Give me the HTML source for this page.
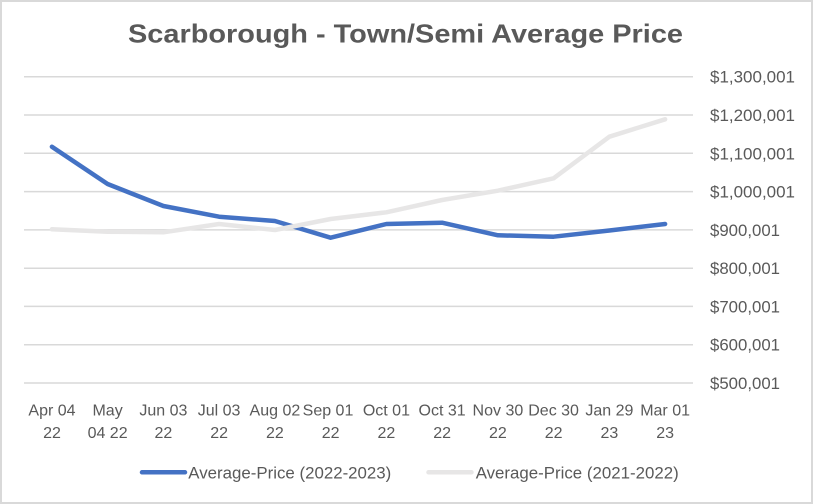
<!DOCTYPE html>
<html>
<head>
<meta charset="utf-8">
<style>
  html,body{margin:0;padding:0;background:#fff;}
  svg{display:block;}
  text{font-family:"Liberation Sans",Arial,sans-serif;fill:#595959;}
</style>
</head>
<body>
<svg width="814" height="504" viewBox="0 0 814 504" xmlns="http://www.w3.org/2000/svg">
  <rect x="0" y="0" width="814" height="504" fill="#ffffff"/>
  <rect x="1" y="1" width="811" height="502" fill="none" stroke="#d9d9d9" stroke-width="2"/>

  <!-- Title -->
  <text x="128" y="42.3" font-size="26" font-weight="bold" textLength="555" lengthAdjust="spacingAndGlyphs">Scarborough - Town/Semi Average Price</text>

  <!-- Gridlines -->
  <g stroke="#d9d9d9" stroke-width="1.5">
    <line x1="24" y1="76.7" x2="693" y2="76.7"/>
    <line x1="24" y1="115.0" x2="693" y2="115.0"/>
    <line x1="24" y1="153.3" x2="693" y2="153.3"/>
    <line x1="24" y1="191.6" x2="693" y2="191.6"/>
    <line x1="24" y1="229.9" x2="693" y2="229.9"/>
    <line x1="24" y1="268.2" x2="693" y2="268.2"/>
    <line x1="24" y1="306.4" x2="693" y2="306.4"/>
    <line x1="24" y1="344.7" x2="693" y2="344.7"/>
    <line x1="24" y1="383.0" x2="693" y2="383.0"/>
  </g>

  <!-- Y axis labels -->
  <g font-size="17">
    <text x="710" y="82.7" textLength="85" lengthAdjust="spacingAndGlyphs">$1,300,001</text>
    <text x="710" y="121.0" textLength="85" lengthAdjust="spacingAndGlyphs">$1,200,001</text>
    <text x="710" y="159.3" textLength="85" lengthAdjust="spacingAndGlyphs">$1,100,001</text>
    <text x="710" y="197.6" textLength="85" lengthAdjust="spacingAndGlyphs">$1,000,001</text>
    <text x="710" y="235.9" textLength="70" lengthAdjust="spacingAndGlyphs">$900,001</text>
    <text x="710" y="274.2" textLength="70" lengthAdjust="spacingAndGlyphs">$800,001</text>
    <text x="710" y="312.4" textLength="70" lengthAdjust="spacingAndGlyphs">$700,001</text>
    <text x="710" y="350.7" textLength="70" lengthAdjust="spacingAndGlyphs">$600,001</text>
    <text x="710" y="389.0" textLength="70" lengthAdjust="spacingAndGlyphs">$500,001</text>
  </g>

  <!-- X axis labels -->
  <g font-size="16" text-anchor="middle">
    <text x="52" y="415.5">Apr 04</text><text x="52" y="438">22</text>
    <text x="107.6" y="415.5">May</text><text x="107.6" y="438">04 22</text>
    <text x="163.4" y="415.5">Jun 03</text><text x="163.4" y="438">22</text>
    <text x="219.1" y="415.5">Jul 03</text><text x="219.1" y="438">22</text>
    <text x="274.9" y="415.5">Aug 02</text><text x="274.9" y="438">22</text>
    <text x="328" y="415.5">Sep 01</text><text x="330.6" y="438">22</text>
    <text x="386.4" y="415.5">Oct 01</text><text x="386.4" y="438">22</text>
    <text x="442.1" y="415.5">Oct 31</text><text x="442.1" y="438">22</text>
    <text x="497.9" y="415.5">Nov 30</text><text x="497.9" y="438">22</text>
    <text x="553.6" y="415.5">Dec 30</text><text x="553.6" y="438">22</text>
    <text x="609.4" y="415.5">Jan 29</text><text x="609.4" y="438">23</text>
    <text x="665.1" y="415.5">Mar 01</text><text x="665.1" y="438">23</text>
  </g>

  <!-- Series 1: blue -->
  <polyline fill="none" stroke="#4472C4" stroke-width="4.5" stroke-linejoin="round" stroke-linecap="round"
    points="51.9,146.7 107.6,184 163.4,206 219.1,216.7 274.9,221 330.6,237.7 386.4,224 442.1,222.7 497.9,235.3 553.6,236.7 609.4,230.5 665.1,224"/>

  <!-- Series 2: light gray -->
  <polyline fill="none" stroke="#e7e6e6" stroke-width="4.5" stroke-linejoin="round" stroke-linecap="round"
    points="51.9,229.3 107.6,231.7 163.4,232.3 219.1,224 274.9,230 330.6,219 386.4,212.3 442.1,200 497.9,190.7 553.6,178.3 609.4,136.7 665.1,119.3"/>

  <!-- Legend -->
  <line x1="142" y1="472.3" x2="185" y2="472.3" stroke="#4472C4" stroke-width="4.5" stroke-linecap="round"/>
  <text x="188.3" y="478.3" font-size="17" textLength="203" lengthAdjust="spacingAndGlyphs">Average-Price (2022-2023)</text>
  <line x1="428.5" y1="472.3" x2="471.5" y2="472.3" stroke="#e7e6e6" stroke-width="4.5" stroke-linecap="round"/>
  <text x="475.7" y="478.3" font-size="17" textLength="203" lengthAdjust="spacingAndGlyphs">Average-Price (2021-2022)</text>
</svg>
</body>
</html>
